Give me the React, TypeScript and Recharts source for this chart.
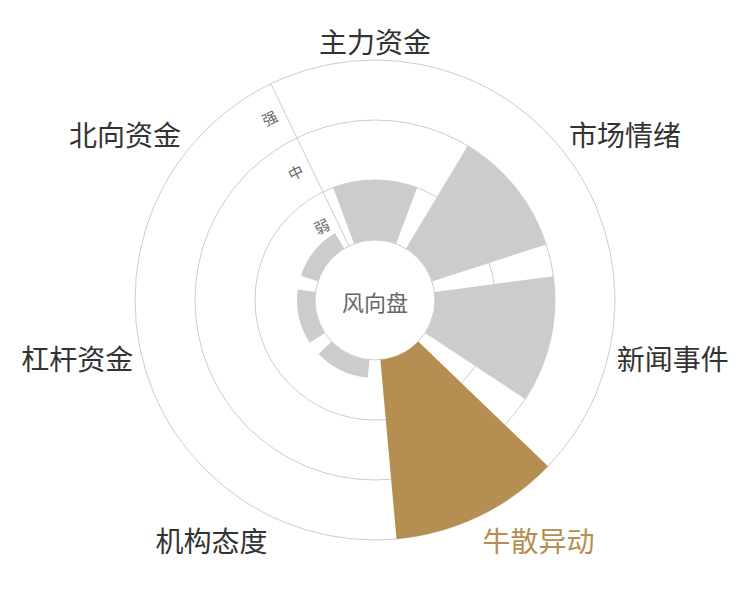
import React from 'react';
import { RadialBarChart, RadialBar, PolarAngleAxis, PolarRadiusAxis, PolarGrid, Cell } from 'recharts';

const categories = ['主力资金', '市场情绪', '新闻事件', '牛散异动', '机构态度', '杠杆资金', '北向资金'];
const strength = [1, 2, 2, 3, 0.3, 0.3, 0.3];
const levelLabels = ['弱', '中', '强'];
const highlighted = '牛散异动';

const CX = 375;
const CY = 300;
const INNER = 60;
const OUTER = 240;
const STEP = 360 / categories.length;
// boundary between the last and the first category, just left of the top
const START = 90 + STEP / 2;
const GOLD = '#b58f51';
const GRAY = '#cccccc';
const FONT = '"Noto Sans CJK SC", "Noto Sans", sans-serif';

const data = categories.map((name, i) => ({ name, value: strength[i] }));

const AngleTick = (props: any) => {
  const name = props.payload.value;
  const i = categories.indexOf(name);
  const theta = (i * STEP * Math.PI) / 180;
  const r = OUTER + 8;
  const x = CX + r * Math.sin(theta);
  const y = CY - r * Math.cos(theta);
  const dx = x - CX;
  const dy = y - CY;
  const anchor = Math.abs(dx) / r < 0.3 ? 'middle' : dx > 0 ? 'start' : 'end';
  let yc = y + 3;
  if (Math.abs(dy) / r >= 0.3) yc = dy > 0 ? y + 17 : y - 11;
  return (
    <text
      x={x}
      y={yc}
      textAnchor={anchor}
      dominantBaseline="central"
      fontSize={28}
      fontFamily={FONT}
      fill={name === highlighted ? GOLD : '#333333'}
    >
      {name}
    </text>
  );
};

const RadiusTick = (props: any) => {
  const v = props.payload.value;
  if (v >= levelLabels.length) return <g />;
  const r = INNER + ((OUTER - INNER) / levelLabels.length) * (v + 0.5);
  const phi = ((STEP / 2) * Math.PI) / 180;
  const ax = CX - r * Math.sin(phi);
  const ay = CY - r * Math.cos(phi);
  const x = ax - 16 * Math.cos(phi);
  const y = ay + 16 * Math.sin(phi);
  return (
    <text
      x={x}
      y={y}
      textAnchor="middle"
      dominantBaseline="central"
      fontSize={15}
      fontFamily={FONT}
      fill="#666666"
      transform={`rotate(${-STEP / 2}, ${x}, ${y})`}
    >
      {levelLabels[Math.round(v)]}
    </text>
  );
};

export default function App() {
  return (
    <div style={{ position: 'absolute', left: 0, top: 0, width: 750, height: 600, background: '#fff' }}>
      <RadialBarChart
        width={750}
        height={600}
        data={data}
        layout="centric"
        cx={CX}
        cy={CY}
        innerRadius={INNER}
        outerRadius={OUTER}
        startAngle={START - STEP}
        endAngle={START - STEP - 360}
        barCategoryGap="10%"
        margin={{ top: 0, right: 0, bottom: 0, left: 0 }}
      >
        <PolarGrid
          gridType="circle"
          radialLines={false}
          polarRadius={[60, 120, 180, 240]}
          stroke="#cccccc"
        />
        <PolarAngleAxis
          type="category"
          dataKey="name"
          axisLine={false}
          tickLine={false}
          tick={AngleTick}
        />
        <PolarRadiusAxis
          type="number"
          angle={START}
          domain={[0, 3]}
          tickCount={4}
          axisLine={{ stroke: '#cccccc' }}
          tick={RadiusTick}
        />
        <RadialBar dataKey="value" isAnimationActive={false} stroke="none">
          {data.map((d) => (
            <Cell key={d.name} fill={d.name === highlighted ? GOLD : GRAY} />
          ))}
        </RadialBar>
      </RadialBarChart>
      <div
        style={{
          position: 'absolute',
          left: CX - 50,
          top: CY - 14,
          width: 100,
          textAlign: 'center',
          fontSize: 22,
          lineHeight: '30px',
          fontFamily: FONT,
          color: '#666666',
        }}
      >
        风向盘
      </div>
    </div>
  );
}
